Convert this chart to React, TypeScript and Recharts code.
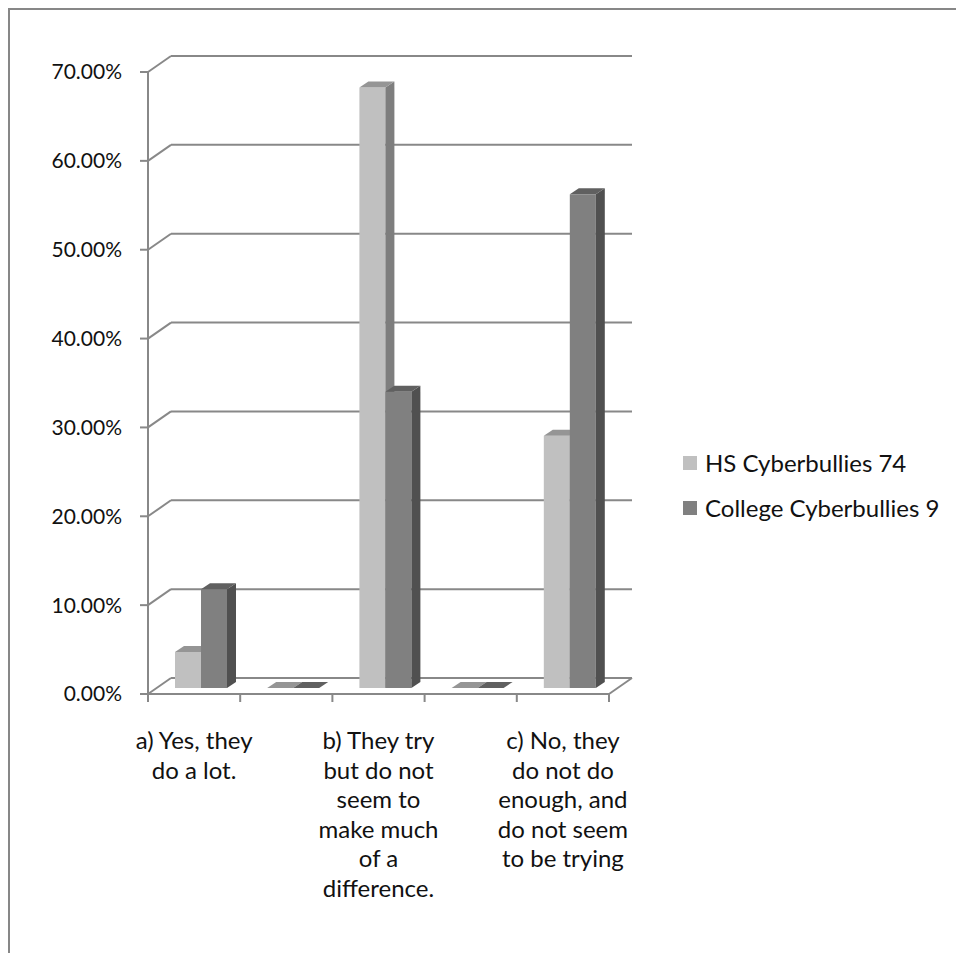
import { BarChart, Bar, XAxis, YAxis, CartesianGrid, Legend } from "recharts";

const categories = [
  "a) Yes, they\ndo a lot.",
  "",
  "b) They try\nbut do not\nseem to\nmake much\nof a\ndifference.",
  "",
  "c) No, they\ndo not do\nenough, and\ndo not seem\nto be trying",
];
const seriesNames = ["HS Cyberbullies 74", "College Cyberbullies 9"];
const hsValues = [0.0405, 0, 0.6757, 0, 0.2838];
const collegeValues = [0.1111, 0, 0.3333, 0, 0.5556];
const yTicks = [0, 0.1, 0.2, 0.3, 0.4, 0.5, 0.6, 0.7];

const W = 956;
const H = 953;
const MARGIN = { top: 72, right: 347, bottom: 0, left: 0 };
const Y_AXIS_W = 148;
const X_AXIS_H = 259;
const PLOT_BOTTOM = H - X_AXIS_H;
const PLOT_RIGHT = W - MARGIN.right;
const BAND = (PLOT_RIGHT - Y_AXIS_W) / categories.length;

// depth of the 3d box (back wall offset) and of the columns
const DEPTH_X = 23;
const DEPTH_Y = 16;
const BAR_SHIFT_X = 7;
const BAR_SHIFT_Y = 6;
const BAR_DX = 9;
const BAR_DY = 6;

const FONT = "Lato, 'Open Sans', sans-serif";
const LINE = "#888888";

const data = categories.map((c, i) => ({
  name: c,
  hs: hsValues[i],
  college: collegeValues[i],
}));

const fmtPct = (v: number) => `${(v * 100).toFixed(2)}%`;

function makeBar(front: string, side: string, top: string) {
  return (props: any) => {
    const { x, y, width, height } = props;
    if (x == null || y == null) return <g />;
    const h = Math.max(height || 0, 0);
    const fx = x + BAR_SHIFT_X;
    const fy = y - BAR_SHIFT_Y;
    const r = fx + width;
    return (
      <g>
        {h > 0 && <rect x={fx} y={fy} width={width} height={h} fill={front} />}
        {h > 0 && (
          <polygon
            points={`${r},${fy} ${r + BAR_DX},${fy - BAR_DY} ${r + BAR_DX},${fy + h - BAR_DY} ${r},${fy + h}`}
            fill={side}
          />
        )}
        <polygon
          points={`${fx},${fy} ${fx + BAR_DX},${fy - BAR_DY} ${r + BAR_DX},${fy - BAR_DY} ${r},${fy}`}
          fill={top}
        />
      </g>
    );
  };
}

const hsShape = makeBar("#c0c0c0", "#7e7e7e", "#959595");
const collegeShape = makeBar("#808080", "#505050", "#606060");

function GridLine(props: any) {
  const { x1, y1, x2 } = props;
  const isFloor = Math.abs(y1 - PLOT_BOTTOM) < 1;
  return (
    <g key={props.key}>
      <line x1={x1} y1={y1} x2={x1 + DEPTH_X} y2={y1 - DEPTH_Y} stroke={LINE} strokeWidth={2} />
      <line
        x1={x1 + DEPTH_X}
        y1={y1 - DEPTH_Y}
        x2={x2 + DEPTH_X}
        y2={y1 - DEPTH_Y}
        stroke={LINE}
        strokeWidth={2}
      />
      {isFloor && (
        <line x1={x2} y1={y1} x2={x2 + DEPTH_X} y2={y1 - DEPTH_Y} stroke={LINE} strokeWidth={2} />
      )}
    </g>
  );
}

function CategoryTick(props: any) {
  const { x, y, payload, index } = props;
  const lines: string[] = payload.value ? String(payload.value).split("\n") : [];
  const left = x - BAND / 2;
  return (
    <g>
      <line x1={left} y1={y - 8} x2={left} y2={y} stroke={LINE} strokeWidth={2} />
      {index === categories.length - 1 && (
        <line x1={x + BAND / 2} y1={y - 8} x2={x + BAND / 2} y2={y} stroke={LINE} strokeWidth={2} />
      )}
      <text x={x} y={y + 47} textAnchor="middle" fontFamily={FONT} fontSize={24} fill="#111">
        {lines.map((l, i) => (
          <tspan key={i} x={x} dy={i === 0 ? 0 : 29.6}>
            {l}
          </tspan>
        ))}
      </text>
    </g>
  );
}

function LegendBox(props: any) {
  const items = [...(props.payload || [])].sort(
    (a: any, b: any) => seriesNames.indexOf(a.value) - seriesNames.indexOf(b.value)
  );
  return (
    <div style={{ fontFamily: FONT, fontSize: 24, color: "#111" }}>
      {items.map((it: any) => (
        <div key={it.value} style={{ display: "flex", alignItems: "center", height: 45 }}>
          <span
            style={{ width: 14, height: 14, background: it.color, display: "inline-block", marginRight: 8 }}
          />
          <span>{it.value}</span>
        </div>
      ))}
    </div>
  );
}

export default function App() {
  return (
    <div style={{ position: "fixed", left: 0, top: 0, width: W, height: H, overflow: "hidden", background: "#fff" }}>
      <div
        style={{
          position: "absolute",
          left: 8,
          top: 8,
          width: 1000,
          height: 1000,
          border: "2px solid #878787",
        }}
      />
      <div style={{ position: "absolute", left: 0, top: 0 }}>
        <BarChart width={W} height={H} data={data} margin={MARGIN} barGap={0}>
          <CartesianGrid vertical={false} horizontal={(p: any) => <GridLine {...p} />} />
          <XAxis
            dataKey="name"
            height={X_AXIS_H}
            interval={0}
            tickLine={false}
            axisLine={{ stroke: LINE, strokeWidth: 2 }}
            tick={<CategoryTick />}
          />
          <YAxis
            width={Y_AXIS_W}
            domain={[0, 0.7]}
            ticks={yTicks}
            tickFormatter={fmtPct}
            tickSize={8}
            tickMargin={18}
            axisLine={{ stroke: LINE, strokeWidth: 2 }}
            tickLine={{ stroke: LINE, strokeWidth: 2 }}
            tick={{ fontFamily: FONT, fontSize: 21, fill: "#111" }}
          />
          <Legend
            layout="vertical"
            align="center"
            verticalAlign="middle"
            wrapperStyle={{ left: 683, top: 440, width: 270 }}
            content={<LegendBox />}
          />
          <Bar
            dataKey="hs"
            name={seriesNames[0]}
            fill="#c0c0c0"
            barSize={26}
            shape={hsShape}
            isAnimationActive={false}
          />
          <Bar
            dataKey="college"
            name={seriesNames[1]}
            fill="#808080"
            barSize={26}
            shape={collegeShape}
            isAnimationActive={false}
          />
        </BarChart>
      </div>
    </div>
  );
}
